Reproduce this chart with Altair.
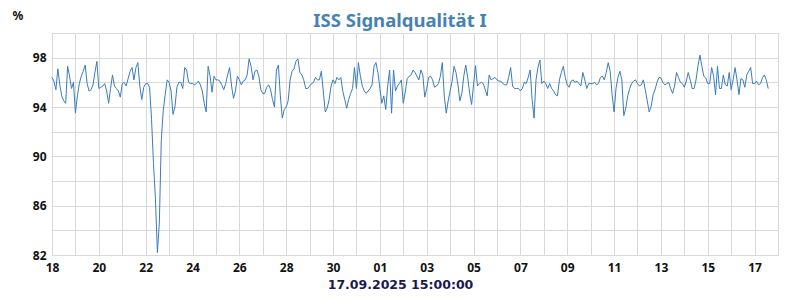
import altair as alt
import pandas as pd

# Signal quality (%) every 2 hours, one list per day
q_aug18 = [96.4, 96.1, 95.4, 97.1, 95.8, 94.9, 94.5, 94.3, 97.3, 96.5, 95.5, 96.0]
q_aug19 = [93.5, 94.9, 95.9, 96.5, 96.9, 97.4, 95.9, 95.3, 95.4, 95.8, 96.8, 97.7]
q_aug20 = [95.5, 95.6, 95.7, 95.9, 95.3, 94.3, 95.5, 96.6, 95.7, 95.5, 95.3, 94.8]
q_aug21 = [95.9, 96.0, 95.7, 96.3, 96.9, 97.2, 96.2, 97.2, 97.6, 95.7, 94.6, 95.6]
q_aug22 = [95.9, 95.9, 95.6, 93.0, 89.4, 86.6, 82.2, 84.6, 91.3, 93.7, 95.0, 96.2]
q_aug23 = [96.0, 95.3, 93.4, 94.0, 95.6, 96.0, 96.0, 95.5, 97.2, 97.0, 96.0, 95.9]
q_aug24 = [95.9, 95.8, 95.9, 96.1, 95.8, 95.3, 94.3, 93.6, 97.3, 96.5, 95.2, 96.5]
q_aug25 = [96.2, 96.2, 96.1, 95.8, 95.4, 95.9, 96.6, 97.2, 95.7, 94.7, 95.3, 96.5]
q_aug26 = [96.2, 95.8, 96.1, 96.2, 96.6, 97.9, 97.3, 96.2, 96.9, 97.0, 96.5, 95.4]
q_aug27 = [95.1, 95.1, 95.6, 95.8, 95.4, 94.6, 94.0, 97.0, 97.4, 94.9, 93.1, 93.8]
q_aug28 = [94.0, 94.5, 96.2, 96.9, 97.1, 97.7, 97.9, 96.8, 96.6, 96.2, 95.5, 95.5]
q_aug29 = [95.7, 95.9, 96.0, 96.4, 96.2, 96.2, 96.9, 95.3, 93.6, 93.9, 94.6, 95.7]
q_aug30 = [96.2, 95.9, 96.4, 96.2, 96.4, 95.3, 94.6, 93.9, 94.6, 95.1, 95.5, 97.2]
q_aug31 = [95.5, 97.6, 96.5, 95.7, 95.3, 95.1, 95.3, 95.5, 95.8, 97.3, 97.6, 96.8]
q_sep01 = [95.5, 94.3, 94.9, 93.8, 95.7, 97.0, 93.5, 97.0, 95.3, 95.7, 95.9, 96.2]
q_sep02 = [94.3, 95.2, 96.3, 96.5, 96.6, 97.0, 96.8, 96.5, 96.2, 97.0, 96.6, 94.8]
q_sep03 = [95.5, 96.4, 96.5, 96.2, 95.6, 95.7, 95.9, 96.5, 97.6, 94.9, 93.5, 94.5]
q_sep04 = [95.3, 96.1, 97.3, 96.8, 95.8, 94.5, 95.1, 96.5, 97.4, 96.4, 95.1, 94.2]
q_sep05 = [95.8, 97.35, 95.7, 95.9, 96.0, 95.9, 95.4, 94.9, 96.6, 96.2, 96.3, 96.4]
q_sep06 = [96.2, 96.1, 96.1, 95.9, 95.8, 95.8, 96.4, 97.2, 95.7, 95.5, 95.5, 95.5]
q_sep07 = [95.3, 95.5, 96.0, 95.9, 96.4, 97.0, 94.6, 93.1, 96.2, 97.2, 97.8, 95.9]
q_sep08 = [96.1, 95.9, 95.5, 95.9, 95.5, 95.3, 95.0, 94.9, 96.2, 96.8, 97.3, 96.4]
q_sep09 = [95.8, 95.6, 96.1, 96.2, 96.0, 96.1, 95.9, 95.7, 96.8, 96.2, 95.5, 95.9]
q_sep10 = [95.9, 95.9, 96.0, 95.8, 95.9, 96.4, 96.5, 96.2, 96.8, 97.6, 96.9, 95.0]
q_sep11 = [93.6, 95.5, 96.4, 96.9, 96.2, 93.3, 93.9, 94.9, 95.5, 95.9, 96.1, 96.2]
q_sep12 = [95.9, 95.7, 95.8, 96.2, 95.4, 94.5, 93.6, 94.05, 95.0, 95.4, 96.0, 96.4]
q_sep13 = [96.35, 96.0, 95.8, 95.9, 96.0, 95.5, 95.1, 95.7, 96.8, 96.4, 96.0, 95.9]
q_sep14 = [95.6, 96.1, 96.8, 96.2, 95.5, 95.5, 96.2, 97.35, 98.2, 97.3, 96.5, 96.35]
q_sep15 = [95.9, 95.9, 97.2, 96.5, 95.0, 97.3, 95.5, 95.5, 96.6, 95.8, 95.7, 96.8]
q_sep16 = [95.4, 96.2, 97.2, 96.2, 95.0, 96.3, 96.2, 95.6, 96.6, 96.9, 97.2, 95.9]
q_sep17 = [95.9, 96.1, 95.8, 95.9, 96.35, 96.6, 96.2, 95.5]

days = [q_aug18, q_aug19, q_aug20, q_aug21, q_aug22, q_aug23, q_aug24, q_aug25,
        q_aug26, q_aug27, q_aug28, q_aug29, q_aug30, q_aug31, q_sep01, q_sep02,
        q_sep03, q_sep04, q_sep05, q_sep06, q_sep07, q_sep08, q_sep09, q_sep10,
        q_sep11, q_sep12, q_sep13, q_sep14, q_sep15, q_sep16, q_sep17]

values = [v for d in days for v in d]
times = pd.date_range("2025-08-18 00:00", periods=len(values), freq="2h")
df = pd.DataFrame({"t": times.strftime("%Y-%m-%dT%H:%M:%S"), "q": values})

y_grid = list(range(82, 101, 2))
day_list = pd.date_range("2025-08-18", "2025-09-17", freq="D")
x_grid = [alt.DateTime(year=d.year, month=d.month, date=d.day) for d in day_list]

FONT = "Noto Sans"
GRID = "#d9d9d9"

chart = alt.Chart(df).mark_line(color="#3a7cbb", strokeWidth=1).encode(
    x=alt.X(
        "t:T",
        scale=alt.Scale(domain=[alt.DateTime(year=2025, month=8, date=18),
                                alt.DateTime(year=2025, month=9, date=18)]),
        axis=alt.Axis(
            values=x_grid,
            labelExpr="(month(datum.value)==7 ? date(datum.value)%2==0 : date(datum.value)%2==1) ? timeFormat(datum.value, '%d') : ''",
            ticks=False,
            labelPadding=7,
            labelFont=FONT, labelFontSize=12, labelFontWeight="bold", labelColor="#111111",
            labelOverlap=False, labelFlush=False,
            title="17.09.2025 15:00:00",
            titleFont="DejaVu Sans", titleFontSize=12.5, titleFontWeight="bold", titleColor="#1a1a50",
            titleX=348, titleY=33, titleAlign="center", titleBaseline="alphabetic",
        ),
    ),
    y=alt.Y(
        "q:Q",
        scale=alt.Scale(domain=[82, 100], nice=False, zero=False),
        axis=alt.Axis(
            values=y_grid,
            labelExpr="((datum.value-82)%4==0 && datum.value<100) ? datum.label : ''",
            ticks=False,
            labelPadding=6,
            labelFont=FONT, labelFontSize=12, labelFontWeight="bold", labelColor="#111111",
            labelOverlap=False,
            title="%",
            titleFont=FONT, titleFontSize=12, titleFontWeight="bold", titleColor="#111111",
            titleAngle=0, titleX=-40, titleY=-14, titleAlign="left", titleBaseline="alphabetic",
        ),
    ),
).properties(
    width=726,
    height=222,
    autosize=alt.AutoSizeParams(type="none"),
    padding={"left": 44, "top": 25, "right": 14, "bottom": 37},
    title=alt.TitleParams(
        text="ISS Signalqualität I",
        font=FONT, fontSize=18.5, fontWeight="bold", color="#4682b4",
        anchor="middle", dx=-15, dy=36, offset=0, baseline="alphabetic",
    ),
).configure_view(
    stroke=GRID, strokeWidth=1
).configure_axis(
    gridColor=GRID, gridWidth=1, domainColor=GRID, domainWidth=1
)

chart.save("out.html", embed_options={"renderer": "svg", "actions": False})
